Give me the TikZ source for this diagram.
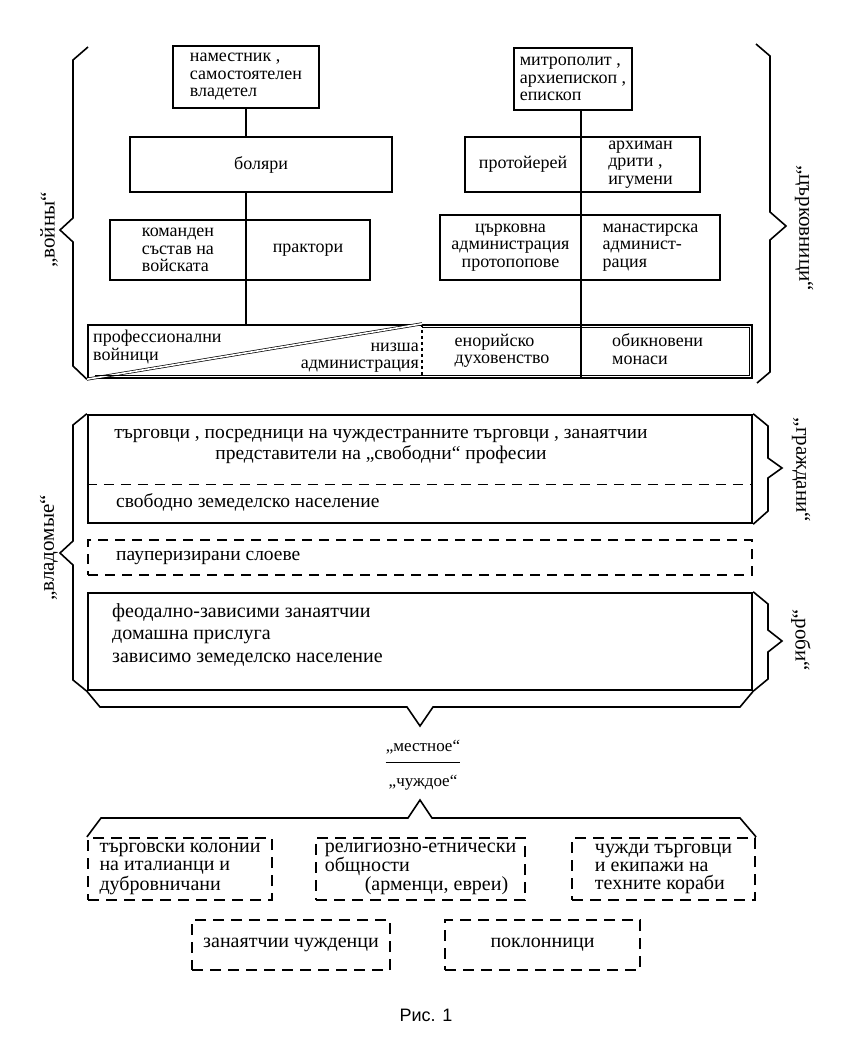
\documentclass[tikz,border=0pt]{standalone}
\usepackage{fontspec}
\setmainfont{Liberation Serif}
\setsansfont{Liberation Sans}
\usetikzlibrary{calc}
\newcommand{\boxfont}{\fontsize{18}{17.5}\selectfont}
\newcommand{\midfont}{\fontsize{19.5}{21}\selectfont}
\newcommand{\lowfont}{\fontsize{20}{22.5}\selectfont}
\newcommand{\alienfont}{\fontsize{20}{18}\selectfont}
\newcommand{\lblfont}{\fontsize{21}{21}\selectfont}
\tikzset{
  box/.style={draw, line width=1.8pt, inner sep=1pt, font=\boxfont, align=left},
  wbox/.style={draw, line width=2.4pt, inner sep=0pt},
  dbox/.style={draw, line width=2.2pt, dash pattern=on 11pt off 7pt, inner sep=1pt, font=\alienfont, align=left},
  txt/.style={font=\boxfont, inner sep=0pt},
  lbl/.style={font=\lblfont, inner sep=0pt},
  conn/.style={line width=1.3pt},
  brace/.style={line width=1.6pt, line join=miter},
}
\begin{document}
\begin{tikzpicture}[x=1pt,y=-1pt]
\useasboundingbox (0,0) rectangle (850,1054);
\coordinate (lL) at (246,0);
\coordinate (lR) at (581,0);
\coordinate (dv) at (422,0);
\node[box, minimum width=146, minimum height=62] (nam) at (246,77) {наместник ,\\самостоятелен\\владетел};
\node[box, minimum width=262, minimum height=55] (boy) at (261,164.5) {боляри};
\node[box, minimum width=136, minimum height=60] (cmd) at (178,250) {команден\\състав на\\войската};
\node[box, minimum width=124, minimum height=60] (prak) at (308,250) {практори};
\node[box, minimum width=118, minimum height=62] (met) at (573,79) {митрополит ,\\архиепископ ,\\епископ};
\node[box, minimum width=116, minimum height=55] (proto) at (523,164.5) {протойерей};
\node[box, minimum width=119, minimum height=55] (arch) at (640.5,164.5) {архиман\\дрити ,\\игумени};
\node[box, minimum width=141, minimum height=65, align=center] (church) at (510.5,247.5) {църковна\\администрация\\протопопове};
\node[box, minimum width=139, minimum height=65] (mon) at (650.5,247.5) {манастирска\\админист-\\рация};
\node[wbox, minimum width=664, minimum height=53] (bar) at (420,351.5) {};
\draw[conn] (nam.south) -- (boy.north -| nam.south);
\draw[conn] (boy.south -| lL) -- (bar.north -| lL);
\draw[conn] (met.south -| lR) -- (bar.south -| lR);
\draw[conn, dashed] (bar.north -| dv) -- (bar.south -| dv);
\draw[line width=0.7pt, double, double distance=1.6pt] (bar.south west) -- (bar.north -| dv);
\draw[line width=0.7pt] ($(bar.north -| dv)+(0,4)$) -- ($(bar.north east)+(-4,4)$) -- ($(bar.south east)+(-4,-4)$) -- ($(bar.south west)+(8,-4)$);
\node[txt, anchor=north west, align=left] (prof) at (93,330) {профессионални\\войници};
\node[txt, anchor=south east, align=right] (low) at (419,373) {низша\\администрация};
\node[txt, align=left] (enor) at (502,351) {енорийско\\духовенство};
\node[txt, anchor=west, align=left] (monk) at (612,349) {обикновени\\монаси};
\draw[brace] (88,47) -- (73,60) -- (73,218) -- (60,230) -- (73,242) -- (73,366) -- (bar.south west);
\draw[brace] (756,44) -- (770,56) -- (770,212) -- (786,226) -- (770,240) -- (770,372) -- (757,383);
\node[lbl, rotate=90] (war) at (49,230) {„войны“};
\node[lbl, rotate=-90] (clergy) at (804,228) {„църковници“};
\node[wbox, minimum width=664, minimum height=108] (free) at (420,469) {};
\draw[line width=1.3pt, dash pattern=on 10pt off 7pt] ([yshift=40pt]free.south west) -- ([yshift=40pt]free.south east);
\node[txt, align=center, font=\midfont] (trade) at (381,446) {търговци , посредници на чуждестранните търговци , занаятчии\\представители на „свободни“ професии};
\node[txt, anchor=west, font=\midfont] (farm) at (116,502) {свободно земеделско население};
\node[draw, line width=1.6pt, dash pattern=on 10pt off 7pt, minimum width=664, minimum height=35] (paup) at (420,557.5) {};
\node[txt, anchor=west, font=\midfont] (pauptxt) at (116,558) {пауперизирани слоеве};
\node[wbox, minimum width=664, minimum height=97] (dep) at (420,641.5) {};
\node[txt, anchor=north west, align=left, font=\lowfont] (deptxt) at (112,603) {феодално-зависими занаятчии\\домашна прислуга\\зависимо земеделско население};
\draw[brace] (free.north west) -- (73,425) -- (73,541) -- (60,553) -- (73,565) -- (73,680) -- (dep.south west);
\draw[brace] (free.north east) -- (768,426) -- (768,458) -- (782,468) -- (768,478) -- (768,511) -- (free.south east);
\draw[brace] (dep.north east) -- (768,604) -- (768,630) -- (782,641) -- (768,652) -- (768,679) -- (dep.south east);
\node[lbl, rotate=90] (ruled) at (49,548) {„владомые“};
\node[lbl, rotate=-90] (citiz) at (801,470) {„граждани“};
\node[lbl, rotate=-90] (slave) at (801,640) {„роби“};
\draw[brace] (dep.south west) -- (100,707) -- (407,707) -- (420,726) -- (433,707) -- (740,707) -- (dep.south east);
\node[txt, font=\fontsize{17}{17}\selectfont] (loc) at (423,747) {„местное“};
\draw[conn] ([yshift=-8pt]loc.south west) -- ([yshift=-8pt]loc.south east);
\node[txt, font=\fontsize{17}{17}\selectfont] (alien) at (423,783) {„чуждое“};
\node[dbox, minimum width=184, minimum height=62] (col) at (180,869) {търговски колонии\\на италианци и\\дубровничани};
\node[dbox, minimum width=209, minimum height=62] (rel) at (420.5,869) {религиозно-етнически\\общности\\\hspace*{2em}(арменци, евреи)};
\node[dbox, minimum width=183, minimum height=62] (trd) at (663.5,869) {чужди търговци\\и екипажи на\\техните кораби};
\node[dbox, minimum width=198, minimum height=50] (craft) at (291,945) {занаятчии чужденци};
\node[dbox, minimum width=195, minimum height=50] (pilg) at (542.5,945) {поклонници};
\draw[brace] (col.north west) -- (101,818) -- (408,818) -- (420,800) -- (432,818) -- (740,818) -- (trd.north east);
\node[font=\sffamily\fontsize{18}{18}\selectfont] (fig) at (426,1015) {Рис. 1};
\end{tikzpicture}
\end{document}
